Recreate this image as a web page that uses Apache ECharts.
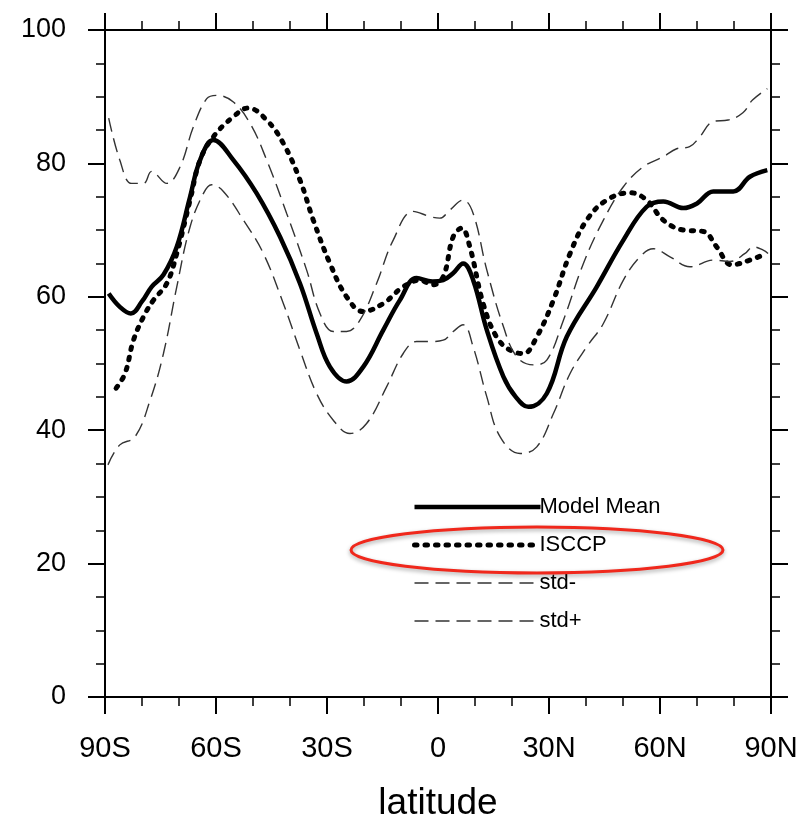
<!DOCTYPE html>
<html>
<head>
<meta charset="utf-8">
<script src="https://cdn.jsdelivr.net/npm/echarts@6/dist/echarts.min.js"></script>
<style>
  html, body { margin: 0; padding: 0; background: #fff; }
  #chart { width: 802px; height: 818px; }
</style>
</head>
<body>
<div id="chart"></div>
<script>
// latitude / value pairs
const meanLat = [-89, -86, -83, -80, -77.4, -74.2, -70.6, -67, -64.3, -60.7, -55.3, -49, -42.7, -37.3, -32.8, -29.2, -24.7, -20.2, -14.8, -10.3, -5.8, -1.5, 1.4, 4, 6.8, 9.5, 13.2, 17.7, 21, 24.4, 29.4, 34.8, 42.9, 50.1, 56.4, 60.9, 66.3, 70, 74.4, 79.8, 84.3, 89]
const meanVal = [60.5, 58.5, 57.5, 59.3, 61.5, 63.3, 67.5, 75, 80.5, 83.5, 80.5, 75.5, 69, 62, 54.5, 49.5, 47.3, 49.5, 55, 59.5, 62.8, 62.3, 62.5, 63.5, 65, 62.5, 55, 48, 45, 43.5, 45.5, 54, 61.5, 68.5, 73.5, 74.3, 73.3, 74, 75.8, 75.8, 78, 79]

const isccpLat = [-87, -84.6, -82.3, -79.6, -76.9, -73.3, -70.6, -67, -64.3, -60.7, -55.3, -51.3, -46.3, -41.8, -37.3, -33.7, -29.2, -24.7, -20.2, -14.8, -9.4, -4.9, -1.5, 1.4, 4.1, 6.4, 8.6, 12.2, 15.8, 19.5, 23.1, 26.7, 31.2, 35.7, 40.2, 45.6, 51.9, 56.4, 60.9, 66.3, 71.7, 75.3, 79.4, 84.3, 88.8]
const isccpVal = [46.3, 48.5, 53.5, 57, 59.5, 62, 66.5, 74.5, 80.5, 84, 87, 88.3, 86.5, 83, 77.5, 71.5, 65, 60, 57.8, 59, 61.5, 62.5, 61.8, 63, 69, 70.3, 67.5, 59, 54, 52, 51.5, 54, 59.5, 66.5, 71.5, 74.5, 75.6, 74.5, 71.5, 70, 69.8, 67.5, 64.8, 65.5, 66.5]

const minusLat = [-89.2, -86, -81.9, -77.8, -74.2, -70.6, -67, -63.4, -61.2, -58, -52.6, -47.2, -41.8, -37.3, -32.8, -28.3, -23.8, -19.3, -13.9, -9.4, -5.8, -2, 1.4, 4.1, 6.8, 9.5, 13.2, 16.8, 22.2, 26.7, 31.2, 35.7, 40.2, 44.7, 50.1, 54.6, 58.2, 62.7, 68.1, 74.4, 78.9, 83, 85.2, 87.9, 89.2]
const minusVal = [34.8, 37.8, 39, 44.5, 51.5, 61.5, 70.5, 75.5, 76.8, 75.8, 71.5, 66.5, 59, 52, 45.5, 41.5, 39.5, 41, 46.5, 51.5, 53.3, 53.3, 53.5, 54.8, 55.8, 52.5, 45, 39, 36.5, 37.5, 42.5, 48.5, 52.5, 56, 62.5, 66, 67.2, 66, 64.5, 65.5, 65.3, 66.5, 67.5, 67, 66.5]

const plusLat = [-89, -86, -82.8, -79.6, -77.4, -73.3, -69.7, -66.1, -62.5, -59.8, -55.3, -50.8, -46.3, -40.9, -35.5, -31.9, -28.3, -24.7, -21.1, -16.6, -12.1, -6.7, -2, 0.5, 3.2, 6.8, 9.5, 13.2, 17.7, 21.3, 25.8, 29.4, 33.9, 39.3, 44.7, 50.1, 55.5, 60.9, 64.5, 68, 70.5, 74.5, 78.4, 82.4, 85, 89]
const plusVal = [86.8, 80.5, 77, 77, 78.8, 77, 79.5, 85.5, 89.7, 90.2, 89.2, 86, 80.5, 72.5, 64, 57.5, 54.8, 54.8, 56.5, 62, 68.5, 72.8, 72, 71.8, 73, 74.5, 72.5, 64, 55.5, 51, 49.8, 50.5, 56.5, 65, 71.5, 76.5, 79.5, 81, 82.2, 82.5, 83.8, 86.3, 86.5, 87.6, 89.5, 91.2]

const legendNames = ['Model Mean', 'ISCCP', 'std-', 'std+']

const zip = (xs, ys) => xs.map((x, i) => [x, ys[i]])

const font = '"Liberation Sans", Arial, Helvetica, sans-serif'

const latLabel = (v) => {
  if (v < 0) return (-v) + 'S'
  if (v > 0) return v + 'N'
  return '0'
}

const frameAxis = {
  axisLine: { show: true, onZero: false, lineStyle: { color: '#000', width: 2 } },
  axisTick: { show: true, inside: false, length: 17, lineStyle: { color: '#000', width: 2 } },
  minorTick: { show: true, length: 9, lineStyle: { color: '#000', width: 1.5 } },
  splitLine: { show: false },
  minorSplitLine: { show: false }
}

const xBase = { type: 'value', min: -90, max: 90, interval: 30 }
const yBase = { type: 'value', min: 0, max: 100, interval: 20 }

const chart = echarts.init(document.getElementById('chart'))

// thin dashed std lines
const thin = (name, data) => ({
  name: name,
  type: 'line',
  data: data,
  smooth: 0.4,
  symbol: 'none',
  lineStyle: { color: '#333', width: 1.4, type: [14, 7] },
  itemStyle: { color: '#333' }
})

chart.setOption({
  animation: false,
  backgroundColor: '#fff',
  grid: { left: 105, right: 31, top: 30, bottom: 121, outerBoundsMode: 'none', containLabel: false },
  legend: {
    orient: 'vertical',
    left: 407,
    top: 491,
    itemWidth: 126,
    itemHeight: 14,
    itemGap: 16,
    itemStyle: { opacity: 0 },
    lineStyle: { width: 'inherit' },
    textStyle: { fontFamily: font, fontSize: 22, color: '#000', padding: [0, 0, 0, -6] },
    data: legendNames
  },
  xAxis: [
    Object.assign({}, xBase, frameAxis, {
      position: 'bottom',
      minorTick: Object.assign({}, frameAxis.minorTick, { splitNumber: 3 }),
      axisLabel: { margin: 37, fontFamily: font, fontSize: 29, color: '#000', formatter: latLabel },
      name: 'latitude',
      nameLocation: 'middle',
      nameGap: 88,
      nameTextStyle: { fontFamily: font, fontSize: 37, color: '#000' }
    }),
    Object.assign({}, xBase, frameAxis, {
      position: 'top',
      minorTick: Object.assign({}, frameAxis.minorTick, { splitNumber: 3 }),
      axisLabel: { show: false }
    })
  ],
  yAxis: [
    Object.assign({}, yBase, frameAxis, {
      position: 'left',
      minorTick: Object.assign({}, frameAxis.minorTick, { splitNumber: 4 }),
      axisLabel: { margin: 39, fontFamily: font, fontSize: 27, color: '#000' }
    }),
    Object.assign({}, yBase, frameAxis, {
      position: 'right',
      minorTick: Object.assign({}, frameAxis.minorTick, { splitNumber: 4 }),
      axisLabel: { show: false }
    })
  ],
  series: [
    {
      name: 'Model Mean',
      type: 'line',
      data: zip(meanLat, meanVal),
      smooth: 0.4,
      symbol: 'none',
      lineStyle: { color: '#000', width: 4.5 },
      itemStyle: { color: '#000' }
    },
    {
      name: 'ISCCP',
      type: 'line',
      data: zip(isccpLat, isccpVal),
      smooth: 0.4,
      symbol: 'none',
      lineStyle: { color: '#000', width: 5, type: [2.5, 8], cap: 'round' },
      itemStyle: { color: '#000' }
    },
    thin('std-', zip(minusLat, minusVal)),
    thin('std+', zip(plusLat, plusVal))
  ],
  graphic: [
    {
      type: 'ellipse',
      shape: { cx: 537, cy: 550, rx: 186, ry: 23 },
      style: {
        fill: 'none',
        stroke: '#f0281c',
        lineWidth: 3,
        shadowBlur: 4,
        shadowColor: 'rgba(0,0,0,0.35)',
        shadowOffsetY: 2
      },
      z: 100
    }
  ]
})
</script>
</body>
</html>
